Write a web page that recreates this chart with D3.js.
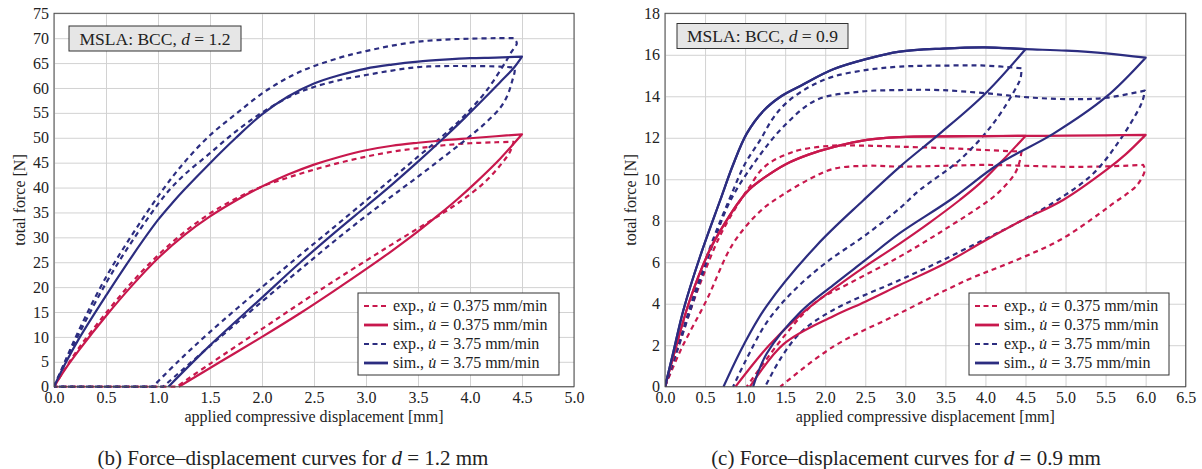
<!DOCTYPE html>
<html>
<head>
<meta charset="utf-8">
<script src="https://cdn.jsdelivr.net/npm/d3@7"></script>
<style>
  html, body { margin: 0; padding: 0; background: #fff; }
  svg text { font-family: 'Liberation Serif', 'Times New Roman', serif; fill: #222; }
</style>
</head>
<body>
<svg id="fig" width="1202" height="469"></svg>
<script>
// ---------- d = 1.2 mm : force [N] vs displacement [mm] ----------
const xTicks12 = [0, 0.5, 1, 1.5, 2, 2.5, 3, 3.5, 4, 4.5, 5];
const yTicks12 = [0, 5, 10, 15, 20, 25, 30, 35, 40, 45, 50, 55, 60, 65, 70, 75];

const simSlow12Load = [[0,0],[0.1,3.3],[0.25,7.6],[0.5,14.2],[0.75,20.3],[1.0,25.8],[1.25,30.4],[1.5,34.2],[1.75,37.4],[2.0,40.2],[2.25,42.6],[2.5,44.6],[2.75,46.2],[3.0,47.5],[3.25,48.4],[3.5,49.0],[3.75,49.5],[4.0,49.9],[4.25,50.3],[4.5,50.7]];
const simSlow12Unload = [[4.5,50.7],[4.29,45.8],[4.06,41.1],[3.87,37.5],[3.71,34.7],[3.5,31.2],[3.25,27.3],[3.0,23.6],[2.69,19.2],[2.37,14.8],[2.0,10.0],[1.6,5.0],[1.2,0]];

const expSlow12Load = [[0,0],[0.1,3.4],[0.25,8.1],[0.5,14.8],[0.75,21.0],[1.0,26.4],[1.25,31.0],[1.5,34.8],[1.75,37.8],[2.0,40.2],[2.25,42.0],[2.5,43.6],[2.75,45.0],[3.0,46.2],[3.25,47.2],[3.5,47.9],[3.75,48.5],[4.0,48.9],[4.25,49.1],[4.42,49.2]];
const expSlow12Unload = [[4.42,49.2],[4.38,47.0],[4.3,44.7],[4.2,42.3],[4.1,40.3],[3.94,37.7],[3.75,35.0],[3.5,31.8],[3.25,28.6],[3.0,25.3],[2.69,21.2],[2.37,16.8],[2.0,11.6],[1.5,4.6],[1.18,0]];
const expSlow12Rest = [[1.18,0],[0,0]];

const simFast12Load = [[0,0],[0.1,4.3],[0.25,10.0],[0.5,18.3],[0.76,26.5],[1.0,33.5],[1.15,37.2],[1.25,39.5],[1.5,44.9],[1.75,50.0],[2.0,54.7],[2.25,58.3],[2.5,60.9],[2.75,62.6],[3.0,63.9],[3.25,64.7],[3.5,65.3],[3.75,65.7],[4.0,66.0],[4.25,66.1],[4.5,66.3]];
const simFast12Unload = [[4.5,66.3],[4.42,64.0],[4.3,61.4],[4.16,58.4],[3.95,54.0],[3.74,49.8],[3.5,45.2],[3.25,40.6],[3.0,36.2],[2.69,30.8],[2.37,25.0],[2.0,17.9],[1.5,8.3],[1.1,0]];

const expFast12aLoad = [[0,0],[0.1,4.8],[0.25,11.8],[0.5,22.0],[0.76,30.8],[1.02,38.8],[1.25,45.0],[1.5,50.5],[1.75,54.8],[2.05,59.6],[2.37,63.3],[2.75,66.1],[3.0,67.4],[3.25,68.5],[3.5,69.3],[3.75,69.7],[4.0,69.9],[4.25,70.0],[4.42,70.0]];
const expFast12aUnload = [[4.42,70.0],[4.45,69.0],[4.4,67.3],[4.35,65.5],[4.16,59.5],[3.95,54.5],[3.75,50.6],[3.5,46.2],[3.25,41.8],[3.0,37.4],[2.69,32.0],[2.37,26.5],[2.0,20.0],[1.5,11.0],[1.2,5.2],[0.95,0]];
const expFast12aRest = [[0.95,0],[0,0]];

const expFast12bLoad = [[0,0],[0.1,4.5],[0.25,11.0],[0.5,20.8],[0.76,29.5],[1.08,38.8],[1.25,42.5],[1.5,46.9],[1.75,51.3],[2.01,55.2],[2.3,58.6],[2.5,60.2],[2.75,61.6],[3.0,62.6],[3.25,63.5],[3.5,64.2],[3.75,64.4],[4.0,64.4],[4.29,64.3],[4.42,64.1]];
const expFast12bUnload = [[4.42,64.1],[4.43,63.6],[4.4,61.0],[4.36,58.5],[4.29,56.0],[4.15,53.0],[3.97,49.8],[3.75,46.2],[3.5,42.2],[3.2,37.5],[2.8,31.0],[2.37,23.6],[2.0,17.1],[1.5,8.2],[1.05,0]];
const expFast12bRest = [[1.05,0],[0,0]];

// ---------- d = 0.9 mm ----------
const xTicks09 = [0, 0.5, 1, 1.5, 2, 2.5, 3, 3.5, 4, 4.5, 5, 5.5, 6, 6.5];
const yTicks09 = [0, 2, 4, 6, 8, 10, 12, 14, 16, 18];

const simSlow09Load = [[0,0],[0.1,1.4],[0.31,4.18],[0.56,6.6],[0.75,7.9],[0.94,9.0],[1.05,9.5],[1.23,10.05],[1.52,10.75],[1.8,11.2],[2.1,11.55],[2.52,11.9],[2.93,12.03],[3.5,12.07],[4.0,12.08],[4.5,12.09],[5.0,12.1],[5.5,12.12],[6.0,12.14]];
const simSlow09aUnload = [[4.5,12.09],[4.2,10.85],[3.93,9.8],[3.68,9.0],[3.3,7.9],[2.93,6.9],[2.5,5.8],[2.1,4.7],[1.7,3.5],[1.3,2.0],[0.88,0]];
const simSlow09bUnload = [[6.0,12.14],[5.75,11.2],[5.51,10.45],[4.97,9.0],[4.43,7.96],[3.97,6.99],[3.5,5.95],[2.93,4.9],[2.5,4.1],[2.1,3.4],[1.48,2.05],[1.06,0]];

const simFast09Load = [[0,0],[0.1,1.6],[0.23,3.7],[0.44,6.3],[0.69,9.0],[0.85,10.7],[1.02,12.2],[1.23,13.3],[1.45,14.0],[1.69,14.5],[2.1,15.3],[2.52,15.8],[2.93,16.15],[3.47,16.3],[3.99,16.36],[4.5,16.27],[5.01,16.2],[5.51,16.07],[6.0,15.86]];
const simFast09aUnload = [[4.5,16.27],[3.99,14.1],[3.43,12.2],[2.93,10.6],[2.48,9.0],[1.89,6.8],[1.27,3.9],[0.98,2.0],[0.73,0]];
const simFast09bUnload = [[6.0,15.86],[5.51,13.98],[4.85,12.2],[4.18,10.77],[3.56,9.0],[2.93,7.4],[2.5,6.1],[2.1,4.9],[1.69,3.6],[1.27,1.6],[1.1,0]];

const expFast09aLoad = [[0,0],[0.15,1.8],[0.4,4.9],[0.6,7.1],[0.8,9.0],[1.0,10.75],[1.19,11.9],[1.35,12.95],[1.52,13.7],[1.8,14.45],[2.1,14.95],[2.52,15.27],[2.93,15.43],[3.5,15.48],[3.99,15.48],[4.45,15.35]];
const expFast09aUnload = [[4.45,15.35],[4.44,14.9],[4.39,14.46],[4.1,12.7],[3.68,10.93],[3.18,9.48],[2.93,8.6],[2.5,7.3],[2.0,5.95],[1.6,4.6],[1.27,3.1],[1.0,1.2],[0.85,0]];

const expFast09bLoad = [[0,0],[0.15,1.7],[0.4,4.66],[0.6,6.9],[0.82,9.0],[1.14,10.93],[1.48,12.54],[1.89,13.82],[2.43,14.22],[2.93,14.3],[3.43,14.3],[3.99,14.15],[4.6,13.93],[5.14,13.86],[5.51,13.93],[5.99,14.27]];
const expFast09bUnload = [[5.99,14.27],[5.97,13.9],[5.93,13.5],[5.68,11.9],[5.35,10.29],[4.9,9.0],[4.39,7.88],[3.97,7.07],[3.43,6.03],[2.93,5.14],[2.1,3.7],[1.69,2.6],[1.45,1.4],[1.25,0]];

const expSlow09aLoad = [[0,0],[0.19,2.25],[0.44,4.98],[0.69,7.3],[0.96,9.1],[1.05,9.6],[1.19,10.4],[1.35,10.9],[1.52,11.2],[1.69,11.42],[2.1,11.62],[2.5,11.62],[2.93,11.57],[3.5,11.5],[3.99,11.41],[4.45,11.33]];
const expSlow09aUnload = [[4.45,11.33],[4.43,10.9],[4.37,10.29],[4.2,9.5],[4.05,9.0],[3.5,7.6],[2.93,6.27],[2.31,5.0],[1.89,4.1],[1.48,2.4],[1.02,0]];

const expSlow09bLoad = [[0,0],[0.2,1.8],[0.52,4.18],[0.85,6.9],[1.2,8.5],[1.45,9.2],[1.8,10.0],[2.1,10.5],[2.52,10.65],[2.93,10.61],[3.5,10.65],[3.99,10.69],[4.5,10.65],[5.01,10.6],[5.5,10.62],[5.97,10.69]];
const expSlow09bUnload = [[5.97,10.69],[5.99,10.45],[5.9,9.75],[5.75,9.25],[5.6,8.85],[5.43,8.36],[4.93,7.07],[4.39,6.11],[3.77,5.14],[2.93,3.54],[2.1,1.93],[1.44,0]];

// Legend entries
const legendLabels = [
  { kind: "exp.", rate: "0.375", slow: true,  dashed: true  },
  { kind: "sim.", rate: "0.375", slow: true,  dashed: false },
  { kind: "exp.", rate: "3.75",  slow: false, dashed: true  },
  { kind: "sim.", rate: "3.75",  slow: false, dashed: false }
];

// ---------- styling ----------
const RED = "#c8184d";
const BLUE = "#2c2d80";
const DASH = "5,4";
const SERIF = "'Liberation Serif', 'Times New Roman', serif";

const upTo = (pts, xmax) => pts.filter(p => p[0] <= xmax);

const panels = [
  {
    left: 54, right: 574, top: 13.3, bottom: 386.7,
    xMax: 5, yMax: 75, xTicks: xTicks12, yTicks: yTicks12,
    dLabel: "1.2", box: { x: 69, y: 26, w: 172, h: 25 },
    legend: { x: 358, y: 293, w: 201, h: 82 },
    yLabelX: 19, captionX: 293, tag: "(b)",
    curves: [
      { segs: [expSlow12Load, expSlow12Unload, expSlow12Rest], color: RED, dashed: true },
      { segs: [expFast12aLoad, expFast12aUnload, expFast12aRest], color: BLUE, dashed: true },
      { segs: [expFast12bLoad, expFast12bUnload, expFast12bRest], color: BLUE, dashed: true },
      { segs: [simSlow12Load, simSlow12Unload], color: RED, dashed: false },
      { segs: [simFast12Load, simFast12Unload], color: BLUE, dashed: false }
    ]
  },
  {
    left: 665, right: 1185.7, top: 13.3, bottom: 386.7,
    xMax: 6.5, yMax: 18, xTicks: xTicks09, yTicks: yTicks09,
    dLabel: "0.9", box: { x: 677, y: 23.5, w: 171, h: 25 },
    legend: { x: 969, y: 293, w: 200, h: 82 },
    yLabelX: 630, captionX: 906, tag: "(c)",
    curves: [
      { segs: [expSlow09aLoad, expSlow09aUnload], color: RED, dashed: true },
      { segs: [expSlow09bLoad, expSlow09bUnload], color: RED, dashed: true },
      { segs: [expFast09aLoad, expFast09aUnload], color: BLUE, dashed: true },
      { segs: [expFast09bLoad, expFast09bUnload], color: BLUE, dashed: true },
      { segs: [upTo(simSlow09Load, 4.5), simSlow09aUnload], color: RED, dashed: false },
      { segs: [simSlow09Load, simSlow09bUnload], color: RED, dashed: false },
      { segs: [upTo(simFast09Load, 4.5), simFast09aUnload], color: BLUE, dashed: false },
      { segs: [simFast09Load, simFast09bUnload], color: BLUE, dashed: false }
    ]
  }
];

const svg = d3.select("#fig");
svg.append("rect").attr("width", 1202).attr("height", 469).attr("fill", "#fff");

panels.forEach((p, pi) => {
  const x = d3.scaleLinear().domain([0, p.xMax]).range([p.left, p.right]);
  const y = d3.scaleLinear().domain([0, p.yMax]).range([p.bottom, p.top]);
  const h = p.bottom - p.top, w = p.right - p.left;
  const g = svg.append("g");

  // grid
  const gridX = g.append("g").attr("transform", `translate(0,${p.bottom})`)
    .call(d3.axisBottom(x).tickValues(p.xTicks).tickSize(-h).tickFormat(""));
  const gridY = g.append("g").attr("transform", `translate(${p.left},0)`)
    .call(d3.axisLeft(y).tickValues(p.yTicks).tickSize(-w).tickFormat(""));
  [gridX, gridY].forEach(s => {
    s.select(".domain").remove();
    s.selectAll(".tick line").attr("stroke", "#d2d2d2").attr("stroke-width", 1);
  });

  // tick labels
  const axX = g.append("g").attr("transform", `translate(0,${p.bottom})`)
    .call(d3.axisBottom(x).tickValues(p.xTicks).tickSize(0).tickPadding(5).tickFormat(d3.format(".1f")));
  const axY = g.append("g").attr("transform", `translate(${p.left},0)`)
    .call(d3.axisLeft(y).tickValues(p.yTicks).tickSize(0).tickPadding(5).tickFormat(d3.format("d")));
  [axX, axY].forEach(s => {
    s.attr("font-family", SERIF).attr("font-size", 16);
    s.select(".domain").remove();
    s.selectAll("text").attr("fill", "#222").style("font-family", SERIF).style("font-size", "16px");
  });

  // curves
  const clipId = "clip" + pi;
  svg.append("defs").append("clipPath").attr("id", clipId)
    .append("rect").attr("x", p.left).attr("y", p.top - 2).attr("width", w + 2).attr("height", h + 4);

  const line = d3.line().x(d => x(d[0])).y(d => y(d[1])).curve(d3.curveCatmullRom.alpha(0.5));
  const cg = g.append("g").attr("clip-path", `url(#${clipId})`);
  p.curves.forEach(c => {
    const d = c.segs.map((s, i) => i === 0 ? line(s) : line(s).replace(/^M/, "L")).join("");
    cg.append("path").attr("d", d).attr("fill", "none")
      .attr("stroke", c.color).attr("stroke-width", 2.2)
      .attr("stroke-linejoin", "round")
      .attr("stroke-dasharray", c.dashed ? DASH : null);
  });

  // frame
  g.append("rect").attr("x", p.left).attr("y", p.top).attr("width", w).attr("height", h)
    .attr("fill", "none").attr("stroke", "#4d4d4d").attr("stroke-width", 1);

  // title box
  g.append("rect").attr("x", p.box.x).attr("y", p.box.y).attr("width", p.box.w).attr("height", p.box.h)
    .attr("fill", "#e6e6e6").attr("stroke", "#333").attr("stroke-width", 1);
  const tt = g.append("text").attr("x", p.box.x + p.box.w / 2).attr("y", p.box.y + p.box.h / 2 + 6)
    .attr("text-anchor", "middle").attr("font-size", 17.5);
  tt.append("tspan").text("MSLA: BCC, ");
  tt.append("tspan").attr("font-style", "italic").text("d");
  tt.append("tspan").text(" = " + p.dLabel);

  // legend
  const L = p.legend;
  const lg = g.append("g");
  lg.append("rect").attr("x", L.x).attr("y", L.y).attr("width", L.w).attr("height", L.h)
    .attr("fill", "#fff").attr("stroke", "#333").attr("stroke-width", 1);
  legendLabels.forEach((e, i) => {
    const cy = L.y + 13 + i * 19;
    lg.append("line").attr("x1", L.x + 6).attr("x2", L.x + 30).attr("y1", cy).attr("y2", cy)
      .attr("stroke", e.slow ? RED : BLUE).attr("stroke-width", e.dashed ? 2.2 : 2.8)
      .attr("stroke-dasharray", e.dashed ? "5,3.5" : null);
    const t = lg.append("text").attr("x", L.x + 35).attr("y", cy + 5).attr("font-size", 16);
    t.append("tspan").text(e.kind + ", ");
    t.append("tspan").attr("font-style", "italic").text("u\u0307");
    t.append("tspan").text(" = " + e.rate + " mm/min");
  });

  // axis titles
  g.append("text").attr("x", (p.left + p.right) / 2).attr("y", 422)
    .attr("text-anchor", "middle").attr("font-size", 16)
    .text("applied compressive displacement [mm]");
  g.append("text").attr("transform", `translate(${p.yLabelX},${(p.top + p.bottom) / 2}) rotate(-90)`)
    .attr("text-anchor", "middle").attr("dy", "0.35em").attr("font-size", 16)
    .text("total force [N]");

  // caption
  const cap = g.append("text").attr("x", p.captionX).attr("y", 465)
    .attr("text-anchor", "middle").attr("font-size", 21);
  cap.append("tspan").text(p.tag + " Force\u2013displacement curves for ");
  cap.append("tspan").attr("font-style", "italic").text("d");
  cap.append("tspan").text(" = " + p.dLabel + " mm");
});
</script>
</body>
</html>
